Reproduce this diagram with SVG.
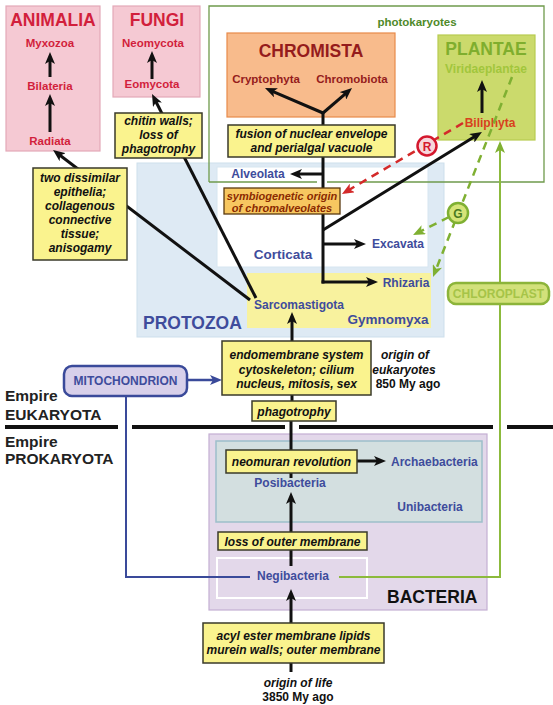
<svg xmlns="http://www.w3.org/2000/svg" width="553" height="705" viewBox="0 0 553 705">
<defs>
<style>
text{font-family:"Liberation Sans",Arial,sans-serif;font-weight:bold}
.t{text-anchor:middle}
.ttl{font-size:17.5px}
.pk{fill:#d21f3c;font-size:11.5px}
.yb{fill:#faf38e;stroke:#3a3a2a;stroke-width:1.5}
.yt{font-size:12px;font-style:italic;fill:#111;text-anchor:middle}
.bl{fill:#3e4c9c;font-size:12px}
.ln{stroke:#111;stroke-width:3;fill:none}
.emp{font-size:15.5px;fill:#222}
</style>
<marker id="ak" viewBox="0 0 12 10" refX="5" refY="5" markerWidth="12" markerHeight="10" markerUnits="userSpaceOnUse" orient="auto"><path d="M0,0 L12,5 L0,10 L3,5 z" fill="#111"/></marker>
<marker id="ab" viewBox="0 0 12 10" refX="5" refY="5" markerWidth="12" markerHeight="10" markerUnits="userSpaceOnUse" orient="auto"><path d="M0,0 L12,5 L0,10 L3,5 z" fill="#3a4a9a"/></marker>
<marker id="ag" viewBox="0 0 12 10" refX="5" refY="5" markerWidth="12" markerHeight="10" markerUnits="userSpaceOnUse" orient="auto"><path d="M0,0 L12,5 L0,10 L3,5 z" fill="#7fb032"/></marker>
<marker id="ar" viewBox="0 0 12 10" refX="5" refY="5" markerWidth="12" markerHeight="10" markerUnits="userSpaceOnUse" orient="auto"><path d="M0,0 L12,5 L0,10 L3,5 z" fill="#d42a2a"/></marker>
</defs>
<rect width="553" height="705" fill="#fff"/>

<g id="animalia">
<rect x="6" y="6" width="94" height="145" fill="#f5c9d3" stroke="#e3a9b8" stroke-width="1.2"/>
<text class="t ttl" x="53" y="26" fill="#d21f3c">ANIMALIA</text>
<text class="t pk" x="50" y="47">Myxozoa</text>
<text class="t pk" x="50" y="90">Bilateria</text>
<text class="t pk" x="50" y="145">Radiata</text>
</g>
<g id="fungi">
<rect x="113" y="6" width="87" height="91" fill="#f5c9d3" stroke="#e3a9b8" stroke-width="1.2"/>
<text class="t ttl" x="157" y="26" fill="#d21f3c">FUNGI</text>
<text class="t pk" x="153" y="47">Neomycota</text>
<text class="t pk" x="152" y="88">Eomycota</text>
</g>

<g id="protozoa">
<rect x="137" y="163" width="307" height="174" fill="#deeaf4" stroke="#cddfec" stroke-width="1"/>
<rect x="217" y="167" width="211" height="100" fill="#fff" stroke="#d6e5f0" stroke-width="1"/>
<rect x="247" y="273" width="184" height="55" fill="#f8f29e"/>
<text x="143" y="329" fill="#3e4c9c" class="ttl">PROTOZOA</text>
<text class="t" x="283" y="259" fill="#3e4c9c" font-size="13.5">Corticata</text>
<text class="t" x="388" y="324" fill="#3e4c9c" font-size="13.5">Gymnomyxa</text>
</g>

<g id="photokaryotes">
<path d="M209,182 V6 H544 V182 H327 M317,182 H209" fill="none" stroke="#6f9a4c" stroke-width="1.3"/>
<text class="t" x="417" y="26" fill="#4f8a2a" font-size="11.5">photokaryotes</text>
</g>

<g id="chromista">
<rect x="227" y="33" width="168" height="84" fill="#f8bb8c" stroke="#e88a4a" stroke-width="1.2"/>
<text class="t ttl" x="311" y="57" fill="#951c1c">CHROMISTA</text>
<text class="t" x="266" y="83" fill="#951c1c" font-size="11.5">Cryptophyta</text>
<text class="t" x="352" y="83" fill="#951c1c" font-size="11.5">Chromobiota</text>
</g>

<g id="plantae">
<rect x="438" y="35" width="97" height="105" fill="#cbda6c" stroke="#b8cc50" stroke-width="1.2"/>
<text class="t ttl" x="486" y="55" fill="#7fae2e">PLANTAE</text>
<text class="t" x="486" y="73" fill="#a2c63c" font-size="12">Viridaeplantae</text>
<text class="t" x="490" y="127" fill="#d8401e" font-size="12">Biliphyta</text>
</g>

<g id="bacteria">
<rect x="209" y="434" width="278" height="176" fill="#e3d8ea" stroke="#c4afd2" stroke-width="1.2"/>
<rect x="216" y="441" width="266" height="81" fill="#d3dfe0" stroke="#9dbfca" stroke-width="1.5"/>
<rect x="217" y="558" width="150" height="40" fill="none" stroke="#fff" stroke-width="2"/>
<text x="387" y="603" fill="#111" class="ttl">BACTERIA</text>
<text class="t bl" x="430" y="511">Unibacteria</text>
<text class="t bl" x="290" y="487">Posibacteria</text>
<text class="t bl" x="293" y="580">Negibacteria</text>
<text class="bl" x="391" y="466">Archaebacteria</text>
</g>

<g id="empire">
<text class="emp" x="5" y="401">Empire</text>
<text class="emp" x="5" y="420">EUKARYOTA</text>
<text class="emp" x="5" y="447">Empire</text>
<text class="emp" x="5" y="464">PROKARYOTA</text>
<path d="M5,427 H118 M132,427 H285 M299,427 H493 M507,427 H553" stroke="#111" stroke-width="4"/>
</g>

<g id="connectors">
<path d="M126,396 V577 H250" fill="none" stroke="#3a4a9a" stroke-width="2"/>
<path d="M339,577 H500 V148" fill="none" stroke="#8cba3c" stroke-width="2" marker-end="url(#ag)"/>
<line x1="187" y1="380" x2="215" y2="380" stroke="#3a4a9a" stroke-width="2.5" marker-end="url(#ab)"/>
<line class="ln" x1="50" y1="132" x2="50" y2="101" marker-end="url(#ak)"/>
<line class="ln" x1="50" y1="77" x2="50" y2="59" marker-end="url(#ak)"/>
<line class="ln" x1="152" y1="79" x2="152" y2="58" marker-end="url(#ak)"/>
<line class="ln" x1="250" y1="300" x2="58.6" y2="154.2" marker-end="url(#ak)"/>
<line class="ln" x1="256" y1="298" x2="155.2" y2="100.2" marker-end="url(#ak)"/>
<line class="ln" x1="323" y1="113" x2="271.4" y2="90.8" marker-end="url(#ak)"/>
<line class="ln" x1="323" y1="113" x2="346.7" y2="92.6" marker-end="url(#ak)"/>
<line class="ln" x1="482" y1="113" x2="482" y2="87" marker-end="url(#ak)"/>
<line class="ln" x1="323" y1="112" x2="323" y2="283.5"/>
<line class="ln" x1="323" y1="174" x2="297" y2="174" marker-end="url(#ak)"/>
<line class="ln" x1="323" y1="244" x2="359" y2="244" marker-end="url(#ak)"/>
<line class="ln" x1="321.5" y1="282" x2="371" y2="282" marker-end="url(#ak)"/>
<line x1="463" y1="123" x2="348" y2="190.5" stroke="#d42a2a" stroke-width="2.5" stroke-dasharray="8,6" marker-end="url(#ar)"/>
<line x1="512" y1="77" x2="435.6" y2="270.5" stroke="#7fb032" stroke-width="2.5" stroke-dasharray="8,6" marker-end="url(#ag)"/>
<line x1="449" y1="217" x2="419.3" y2="231.9" stroke="#7fb032" stroke-width="2.5" stroke-dasharray="8,6" marker-end="url(#ag)"/>
<line class="ln" x1="323" y1="230" x2="476" y2="135.7" marker-end="url(#ak)"/>
<line class="ln" x1="292" y1="341" x2="292" y2="319" marker-end="url(#ak)"/>
<line class="ln" x1="292" y1="395" x2="292" y2="401"/>
<line class="ln" x1="291" y1="421" x2="291" y2="478"/>
<line class="ln" x1="357" y1="461" x2="379" y2="461" marker-end="url(#ak)"/>
<line class="ln" x1="291" y1="532" x2="291" y2="499" marker-end="url(#ak)"/>
<line class="ln" x1="291" y1="550" x2="291" y2="566"/>
<line class="ln" x1="291" y1="623" x2="291" y2="596" marker-end="url(#ak)"/>
<line class="ln" x1="291" y1="663" x2="291" y2="672"/>
</g>

<g id="two-dissimilar">
<rect class="yb" x="33" y="168" width="94" height="92"/>
<text class="yt" x="80" y="182">two dissimilar</text>
<text class="yt" x="80" y="196">epithelia;</text>
<text class="yt" x="80" y="210">collagenous</text>
<text class="yt" x="80" y="224">connective</text>
<text class="yt" x="80" y="238">tissue;</text>
<text class="yt" x="80" y="252">anisogamy</text>
</g>
<g id="chitin">
<rect class="yb" x="115" y="113" width="87" height="45"/>
<text class="yt" x="158.5" y="125">chitin walls;</text>
<text class="yt" x="158.5" y="139">loss of</text>
<text class="yt" x="158.5" y="153">phagotrophy</text>
</g>
<g id="fusion">
<rect class="yb" x="228" y="125" width="167" height="32"/>
<text class="yt" x="311.5" y="137.5">fusion of nuclear envelope</text>
<text class="yt" x="311.5" y="151.5">and perialgal vacuole</text>
</g>
<g id="symbiogenetic">
<rect x="224" y="188" width="116" height="26" fill="#f7c760" stroke="#5a3a10" stroke-width="1.3"/>
<text class="t" x="282" y="200" font-size="11" font-style="italic" fill="#8a2a00">symbiogenetic origin</text>
<text class="t" x="282" y="211.5" font-size="11" font-style="italic" fill="#8a2a00">of chromalveolates</text>
</g>
<g id="sarcomastigota"><text class="t bl" x="299" y="309">Sarcomastigota</text></g>
<g id="alveolata"><text class="t bl" x="258" y="178">Alveolata</text></g>
<g id="excavata"><text class="t bl" x="398" y="248">Excavata</text></g>
<g id="rhizaria"><text class="t bl" x="406" y="287">Rhizaria</text></g>

<g id="R">
<circle cx="427" cy="146" r="9.5" fill="#f7d6dc" stroke="#d4182e" stroke-width="2.5"/>
<text class="t" x="427" y="150.5" font-size="12" fill="#d4182e">R</text>
</g>
<g id="G">
<circle cx="458" cy="213" r="10" fill="#d6e478" stroke="#7fb032" stroke-width="2.5"/>
<text class="t" x="458" y="217.5" font-size="12" fill="#4a7a20">G</text>
</g>
<g id="chloroplast">
<rect x="448" y="283" width="101" height="21" rx="8" fill="#d2e17a" stroke="#8cb43a" stroke-width="2.5"/>
<text class="t" x="498.5" y="298" font-size="12" fill="#a6c448">CHLOROPLAST</text>
</g>
<g id="mitochondrion">
<rect x="64" y="366" width="123" height="30" rx="8" fill="#d8d0ea" stroke="#3a4a9a" stroke-width="2.5"/>
<text class="t" x="125.5" y="385" font-size="12" fill="#3e4c9c">MITOCHONDRION</text>
</g>
<g id="endomembrane">
<rect class="yb" x="222" y="341" width="149" height="54"/>
<text class="yt" x="296.5" y="359">endomembrane system</text>
<text class="yt" x="296.5" y="373.5">cytoskeleton; cilium</text>
<text class="yt" x="296.5" y="388">nucleus, mitosis, sex</text>
</g>
<g id="origin-eukaryotes">
<text class="t" x="405" y="359" font-size="12" font-style="italic" fill="#111">origin of</text>
<text class="t" x="404" y="373.5" font-size="12" font-style="italic" fill="#111">eukaryotes</text>
<text class="t" x="408" y="388" font-size="12" fill="#111">850 My ago</text>
</g>
<g id="phagotrophy">
<rect class="yb" x="252" y="401" width="84" height="20"/>
<text class="yt" x="294" y="415.5">phagotrophy</text>
</g>
<g id="neomuran">
<rect class="yb" x="226" y="450" width="131" height="23"/>
<text class="yt" x="291.5" y="465.5">neomuran revolution</text>
</g>
<g id="loss-outer">
<rect class="yb" x="218" y="532" width="149" height="18"/>
<text class="yt" x="292.5" y="545.5">loss of outer membrane</text>
</g>
<g id="acyl">
<rect class="yb" x="203" y="623" width="181" height="40"/>
<text class="yt" x="293.5" y="640">acyl ester membrane lipids</text>
<text class="yt" x="293.5" y="654">murein walls; outer membrane</text>
</g>
<g id="origin-life">
<text class="t" x="298" y="686.5" font-size="12" font-style="italic" fill="#111">origin of life</text>
<text class="t" x="298" y="700.5" font-size="12" fill="#111">3850 My ago</text>
</g>
</svg>
